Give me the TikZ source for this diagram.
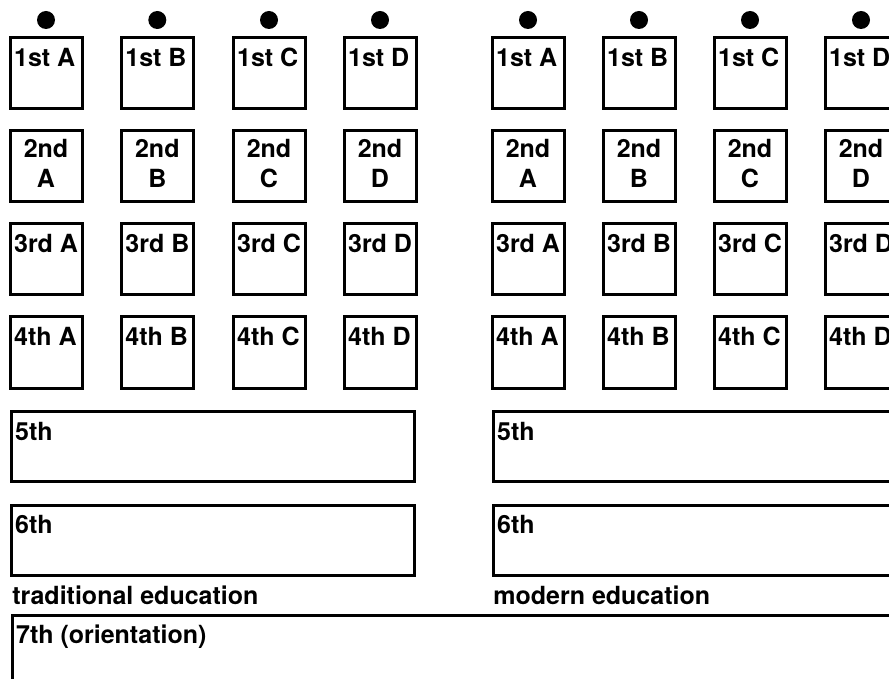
\documentclass[tikz,border=0pt]{standalone}
\usepackage{fontspec}
\setmainfont{TeX Gyre Heros}

\tikzset{
  grade/.style={draw, line width=1.5pt, minimum width=36pt, minimum height=35.5pt, inner sep=0pt},
  wide/.style={draw, line width=1.5pt, minimum width=201.5pt, minimum height=35pt, inner sep=0pt},
  pin/.style={circle, fill, minimum size=9pt, inner sep=0pt},
  tl/.style={label={[anchor=north west, inner sep=0pt, text height=9pt, text depth=0pt, xshift=2.6pt, yshift=-6pt]north west:#1}},
  tc/.style={label={[anchor=north, inner sep=0pt, yshift=-4.5pt, align=center]north:#1}},
}

\begin{document}
\begin{tikzpicture}[x=0.5pt, y=-0.5pt, font=\bfseries\fontsize{12.5}{15}\selectfont]
  \useasboundingbox (0,0) rectangle (889,679);
  \clip (0,0) rectangle (889,679);

  % traditional education
  \node[pin] (tpa) at (46,20) {};
  \node[pin] (tpb) at (157.3,20) {};
  \node[pin] (tpc) at (269,20) {};
  \node[pin] (tpd) at (380,20) {};

  \node[grade, tl={1st A}] (t1a) at (46,73.5) {};
  \node[grade, tl={1st B}] (t1b) at (157.3,73.5) {};
  \node[grade, tl={1st C}] (t1c) at (269,73.5) {};
  \node[grade, tl={1st D}] (t1d) at (380,73.5) {};

  \node[grade, tc={2nd\\A}] (t2a) at (46,166.5) {};
  \node[grade, tc={2nd\\B}] (t2b) at (157.3,166.5) {};
  \node[grade, tc={2nd\\C}] (t2c) at (269,166.5) {};
  \node[grade, tc={2nd\\D}] (t2d) at (380,166.5) {};

  \node[grade, tl={3rd A}] (t3a) at (46,259.5) {};
  \node[grade, tl={3rd B}] (t3b) at (157.3,259.5) {};
  \node[grade, tl={3rd C}] (t3c) at (269,259.5) {};
  \node[grade, tl={3rd D}] (t3d) at (380,259.5) {};

  \node[grade, tl={4th A}] (t4a) at (46,352.5) {};
  \node[grade, tl={4th B}] (t4b) at (157.3,352.5) {};
  \node[grade, tl={4th C}] (t4c) at (269,352.5) {};
  \node[grade, tl={4th D}] (t4d) at (380,352.5) {};

  \node[wide, tl={5th}] (t5) at (212.5,446.5) {};
  \node[wide, tl={6th}] (t6) at (212.5,540) {};
  \node[anchor=base west, inner sep=0pt] (trad) at (12,604) {traditional education};

  % modern education
  \node[pin] (mpa) at (528,20) {};
  \node[pin] (mpb) at (639,20) {};
  \node[pin] (mpc) at (750,20) {};
  \node[pin] (mpd) at (861,20) {};

  \node[grade, tl={1st A}] (m1a) at (528,73.5) {};
  \node[grade, tl={1st B}] (m1b) at (639,73.5) {};
  \node[grade, tl={1st C}] (m1c) at (750,73.5) {};
  \node[grade, tl={1st D}] (m1d) at (861,73.5) {};

  \node[grade, tc={2nd\\A}] (m2a) at (528,166.5) {};
  \node[grade, tc={2nd\\B}] (m2b) at (639,166.5) {};
  \node[grade, tc={2nd\\C}] (m2c) at (750,166.5) {};
  \node[grade, tc={2nd\\D}] (m2d) at (861,166.5) {};

  \node[grade, tl={3rd A}] (m3a) at (528,259.5) {};
  \node[grade, tl={3rd B}] (m3b) at (639,259.5) {};
  \node[grade, tl={3rd C}] (m3c) at (750,259.5) {};
  \node[grade, tl={3rd D}] (m3d) at (861,259.5) {};

  \node[grade, tl={4th A}] (m4a) at (528,352.5) {};
  \node[grade, tl={4th B}] (m4b) at (639,352.5) {};
  \node[grade, tl={4th C}] (m4c) at (750,352.5) {};
  \node[grade, tl={4th D}] (m4d) at (861,352.5) {};

  \node[wide, tl={5th}] (m5) at (694.5,446.5) {};
  \node[wide, tl={6th}] (m6) at (694.5,540) {};
  \node[anchor=base west, inner sep=0pt] (mod) at (493,604) {modern education};

  % common year
  \node[draw, line width=1.5pt, minimum width=495pt, minimum height=75pt, inner sep=0pt,
        tl={7th (orientation)}] (o7) at (507,690) {};
\end{tikzpicture}
\end{document}
